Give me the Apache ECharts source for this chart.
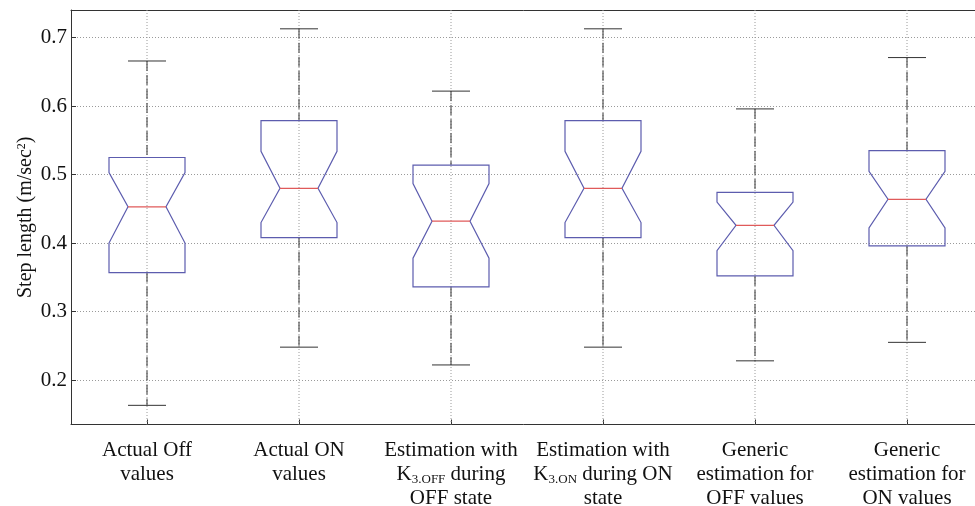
<!DOCTYPE html>
<html>
<head>
<meta charset="utf-8">
<script src="https://cdn.jsdelivr.net/npm/echarts@6/dist/echarts.min.js"></script>
<style>
html,body{margin:0;padding:0;background:#fff;}
#chart{width:975px;height:506px;}
</style>
</head>
<body>
<div id="chart"></div>
<script>
// Categories (tick labels, with rich-text subscripts)
const categories = [
  'Actual Off\nvalues',
  'Actual ON\nvalues',
  'Estimation with\nK{s|3.OFF} during\nOFF state',
  'Estimation with\nK{s|3.ON} during ON\nstate',
  'Generic\nestimation for\nOFF values',
  'Generic\nestimation for\nON values'
];
// Box-plot statistics
const whiskerHigh = [0.666, 0.713, 0.622, 0.713, 0.596, 0.671];
const q3          = [0.525, 0.579, 0.514, 0.579, 0.474, 0.535];
const notchHigh   = [0.503, 0.534, 0.487, 0.534, 0.460, 0.505];
const median      = [0.453, 0.480, 0.432, 0.480, 0.426, 0.464];
const notchLow    = [0.400, 0.430, 0.378, 0.430, 0.389, 0.422];
const q1          = [0.357, 0.408, 0.336, 0.408, 0.352, 0.396];
const whiskerLow  = [0.163, 0.248, 0.222, 0.248, 0.228, 0.255];
const yTickValues = [0.2, 0.3, 0.4, 0.5, 0.6, 0.7];

const data = categories.map((c, i) => [i, whiskerLow[i], q1[i], notchLow[i], median[i], notchHigh[i], q3[i], whiskerHigh[i]]);

const FONT = "'Times New Roman', 'Liberation Serif', serif";
const BOX = '#5c5cae';
const MED = '#e05a5a';
const WH = '#333333';
const GRIDC = '#9a9a9a';

function renderItem(params, api) {
  const idx = api.value(0);
  const band = api.size([1, 0])[0];
  const hw = band * 0.25, nw = band * 0.125;
  const cs = params.coordSys;
  const p = k => api.coord([idx, api.value(k)]);
  const c = p(4)[0];
  const yWL = p(1)[1], yQ1 = p(2)[1], yNL = p(3)[1], yM = p(4)[1], yNH = p(5)[1], yQ3 = p(6)[1], yWH = p(7)[1];
  const lineStyle = (color, dash, w) => ({stroke: color, lineWidth: w || 1, lineDash: dash || null, fill: null});
  return {
    type: 'group',
    children: [
      {type: 'line', shape: {x1: c, y1: cs.y, x2: c, y2: cs.y + cs.height}, style: lineStyle(GRIDC, [1, 2])},
      {type: 'line', shape: {x1: c, y1: yWH, x2: c, y2: yQ3}, style: lineStyle(WH, [10, 4])},
      {type: 'line', shape: {x1: c, y1: yQ1, x2: c, y2: yWL}, style: lineStyle(WH, [10, 4])},
      {type: 'line', shape: {x1: c - nw, y1: yWH, x2: c + nw, y2: yWH}, style: lineStyle(WH)},
      {type: 'line', shape: {x1: c - nw, y1: yWL, x2: c + nw, y2: yWL}, style: lineStyle(WH)},
      {type: 'polygon', shape: {points: [
        [c - hw, yQ3], [c + hw, yQ3], [c + hw, yNH], [c + nw, yM], [c + hw, yNL],
        [c + hw, yQ1], [c - hw, yQ1], [c - hw, yNL], [c - nw, yM], [c - hw, yNH]
      ]}, style: {stroke: BOX, lineWidth: 1.2, fill: null}},
      {type: 'line', shape: {x1: c - nw, y1: yM, x2: c + nw, y2: yM}, style: lineStyle(MED, null, 1.2)}
    ]
  };
}

const chart = echarts.init(document.getElementById('chart'), null, {renderer: 'canvas'});
chart.setOption({
  animation: false,
  backgroundColor: '#ffffff',
  grid: {left: 71, right: -8, top: 10, bottom: 81.5, containLabel: false, outerBoundsMode: 'none'},
  xAxis: [{
    type: 'category',
    data: categories,
    boundaryGap: true,
    z: 3,
    axisLine: {show: true, lineStyle: {color: '#333', width: 1}},
    axisTick: {show: true, inside: true, length: 5, alignWithLabel: true, lineStyle: {color: '#333'}},
    splitLine: {show: false},
    axisLabel: {
      interval: 0, margin: 14, color: '#111', fontFamily: FONT, fontSize: 21, lineHeight: 24, align: 'center',
      rich: {s: {fontFamily: FONT, fontSize: 13, lineHeight: 15, verticalAlign: 'bottom', color: '#111'}}
    }
  }, {
    type: 'category',
    data: categories,
    position: 'top',
    z: 3,
    axisLine: {show: true, lineStyle: {color: '#333', width: 1}},
    axisTick: {show: false},
    axisLabel: {show: false},
    splitLine: {show: false}
  }],
  yAxis: {
    type: 'value',
    min: 0.135,
    max: 0.7405,
    z: 1,
    name: 'Step length (m/sec{sup|2})',
    nameLocation: 'middle',
    nameGap: 35,
    nameMoveOverlap: false,
    nameTextStyle: {
      fontFamily: FONT, fontSize: 20, lineHeight: 20, color: '#111',
      rich: {sup: {fontFamily: FONT, fontSize: 12, lineHeight: 20, verticalAlign: 'top', color: '#111'}}
    },
    axisLine: {show: true, lineStyle: {color: '#333', width: 1}},
    axisTick: {show: true, inside: true, length: 5, lineStyle: {color: '#333'}},
    axisLabel: {
      margin: 4, color: '#111', fontFamily: FONT, fontSize: 21, showMinLabel: false, showMaxLabel: false,
      formatter: v => yTickValues.some(t => Math.abs(t - v) < 1e-9) ? v.toFixed(1) : ''
    },
    splitLine: {show: true, lineStyle: {color: GRIDC, type: [1, 2], width: 1}}
  },
  series: [{
    type: 'custom',
    renderItem: renderItem,
    data: data,
    z: 5,
    encode: {x: 0, y: [1, 2, 3, 4, 5, 6, 7]},
    clip: false
  }]
});
</script>
</body>
</html>
